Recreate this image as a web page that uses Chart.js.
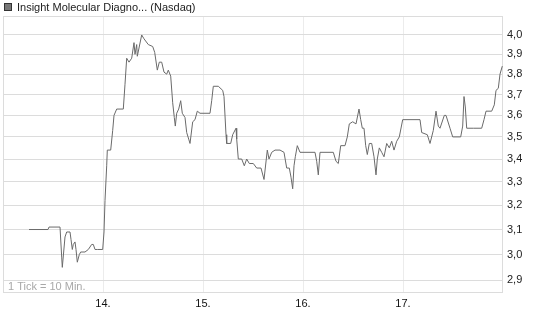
<!DOCTYPE html>
<html>
<head>
<meta charset="utf-8">
<script src="https://cdn.jsdelivr.net/npm/chart.js@4"></script>
<style>
  html, body { margin: 0; padding: 0; background: #fff; }
  #wrap { position: relative; width: 545px; height: 327px; }
</style>
</head>
<body>
<div id="wrap"><canvas id="quote-chart"></canvas></div>
<script>
// Intraday quote, 10 minute ticks, time given in days of the month
const times = [
    13.26, 13.45, 13.46, 13.57, 13.587, 13.593, 13.62, 13.637, 13.67, 13.68,
    13.693, 13.703, 13.72, 13.73, 13.743, 13.763, 13.777, 13.82, 13.853, 13.887,
    13.903, 13.92, 13.947, 13.997, 14.01, 14.02, 14.037, 14.043, 14.077, 14.097,
    14.11, 14.137, 14.203, 14.22, 14.237, 14.26, 14.287, 14.31, 14.32, 14.337,
    14.343, 14.387, 14.41, 14.453, 14.497, 14.517, 14.543, 14.563, 14.587, 14.61,
    14.637, 14.653, 14.677, 14.697, 14.713, 14.723, 14.737, 14.757, 14.777, 14.793,
    14.82, 14.837, 14.857, 14.87, 14.897, 14.92, 14.943, 14.97, 15.07, 15.087,
    15.103, 15.153, 15.197, 15.21, 15.23, 15.237, 15.277, 15.297, 15.33, 15.337,
    15.353, 15.387, 15.413, 15.437, 15.463, 15.503, 15.537, 15.58, 15.61, 15.643,
    15.66, 15.687, 15.72, 15.77, 15.81, 15.837, 15.863, 15.88, 15.897, 15.91,
    15.923, 15.943, 15.97, 16.12, 16.137, 16.153, 16.17, 16.303, 16.33, 16.353,
    16.377, 16.42, 16.443, 16.463, 16.497, 16.53, 16.56, 16.577, 16.593, 16.61,
    16.627, 16.643, 16.663, 16.687, 16.71, 16.73, 16.743, 16.763, 16.787, 16.81,
    16.837, 16.863, 16.887, 16.91, 16.937, 16.963, 16.997, 17.17, 17.187, 17.243,
    17.27, 17.303, 17.33, 17.353, 17.37, 17.413, 17.43, 17.47, 17.497, 17.577,
    17.597, 17.61, 17.623, 17.637, 17.703, 17.787, 17.81, 17.83, 17.887, 17.913,
    17.93, 17.953, 17.97, 17.993
];
const prices = [
    3.10, 3.10, 3.11, 3.11, 2.99, 2.95, 3.07, 3.09, 3.09, 3.06,
    3.02, 3.04, 3.05, 3.02, 2.97, 3.00, 3.01, 3.01, 3.02, 3.04,
    3.04, 3.02, 3.02, 3.02, 3.09, 3.22, 3.37, 3.44, 3.44, 3.53,
    3.60, 3.63, 3.63, 3.75, 3.88, 3.86, 3.88, 3.96, 3.90, 3.95,
    3.89, 4.00, 3.98, 3.95, 3.94, 3.91, 3.82, 3.86, 3.86, 3.81,
    3.80, 3.82, 3.79, 3.66, 3.59, 3.55, 3.61, 3.63, 3.67, 3.61,
    3.59, 3.52, 3.49, 3.47, 3.57, 3.58, 3.62, 3.61, 3.61, 3.67,
    3.74, 3.74, 3.72, 3.69, 3.51, 3.47, 3.47, 3.51, 3.54, 3.49,
    3.40, 3.40, 3.37, 3.40, 3.38, 3.38, 3.36, 3.36, 3.31, 3.44,
    3.40, 3.43, 3.44, 3.44, 3.43, 3.36, 3.36, 3.32, 3.27, 3.37,
    3.41, 3.46, 3.43, 3.43, 3.39, 3.33, 3.43, 3.43, 3.39, 3.38,
    3.46, 3.46, 3.50, 3.56, 3.57, 3.56, 3.63, 3.58, 3.54, 3.54,
    3.46, 3.42, 3.47, 3.47, 3.41, 3.33, 3.40, 3.45, 3.43, 3.41,
    3.47, 3.45, 3.48, 3.44, 3.48, 3.50, 3.58, 3.58, 3.52, 3.51,
    3.47, 3.53, 3.62, 3.55, 3.54, 3.60, 3.60, 3.54, 3.50, 3.50,
    3.55, 3.69, 3.64, 3.54, 3.54, 3.54, 3.58, 3.62, 3.62, 3.65,
    3.72, 3.73, 3.80, 3.84
];
const dayTicks = [14, 15, 16, 17];
const priceTicks = [2.9, 3.0, 3.1, 3.2, 3.3, 3.4, 3.5, 3.6, 3.7, 3.8, 3.9, 4.0];
const legendLabel = 'Insight Molecular Diagno... (Nasdaq)';
const tickNote = '1 Tick = 10 Min.';

const points = times.map((t, i) => ({ x: t, y: prices[i] }));
const labelFont = { family: 'Liberation Sans, Arial, sans-serif', size: 11 };

// frame, legend square + name, tick note
const decorations = {
    id: 'decorations',
    beforeDatasetsDraw(chart) {
        const ctx = chart.ctx;
        const a = chart.chartArea;
        ctx.save();
        ctx.strokeStyle = '#dcdcdc';
        ctx.lineWidth = 1;
        ctx.strokeRect(a.left + 0.5, a.top + 0.5, a.right - a.left - 1, a.bottom - a.top - 1);
        ctx.restore();
    },
    afterDraw(chart) {
        const ctx = chart.ctx;
        const a = chart.chartArea;
        ctx.save();
        ctx.fillStyle = '#777';
        ctx.fillRect(4, 3, 8, 8);
        ctx.strokeStyle = '#333';
        ctx.lineWidth = 1;
        ctx.strokeRect(4.5, 3.5, 7, 7);
        ctx.font = '11px ' + labelFont.family;
        ctx.textBaseline = 'middle';
        ctx.fillStyle = '#222';
        ctx.fillText(legendLabel, 17, 8);
        ctx.fillStyle = '#a8a8a8';
        ctx.fillText(tickNote, a.left + 5, a.bottom - 6);
        ctx.restore();
    }
};

new Chart(document.getElementById('quote-chart'), {
    type: 'line',
    data: {
        datasets: [{
            data: points,
            borderColor: '#6a6a6a',
            borderWidth: 1,
            pointRadius: 0,
            tension: 0,
            fill: false
        }]
    },
    options: {
        responsive: true,
        maintainAspectRatio: false,
        animation: false,
        layout: { padding: { left: 3, top: 16, right: 0, bottom: 0 } },
        plugins: {
            legend: { display: false },
            tooltip: { enabled: false }
        },
        scales: {
            x: {
                type: 'linear',
                min: 13,
                max: 18,
                afterBuildTicks: s => { s.ticks = dayTicks.map(v => ({ value: v })); },
                afterFit: s => { s.height = 34; },
                grid: { color: '#ececec', drawTicks: false },
                border: { display: false },
                ticks: {
                    padding: 4,
                    color: '#111',
                    font: labelFont,
                    maxRotation: 0,
                    callback: v => v + '.'
                }
            },
            y: {
                type: 'logarithmic',
                position: 'right',
                min: 2.8526,
                max: 4.1007,
                afterBuildTicks: s => { s.ticks = priceTicks.map(v => ({ value: v })); },
                afterFit: s => { s.width = 42; },
                grid: { color: '#dcdcdc', drawTicks: false },
                border: { display: false },
                ticks: {
                    padding: 4,
                    color: '#222',
                    font: labelFont,
                    callback: v => v.toFixed(1).replace('.', ',')
                }
            }
        }
    },
    plugins: [decorations]
});
</script>
</body>
</html>
